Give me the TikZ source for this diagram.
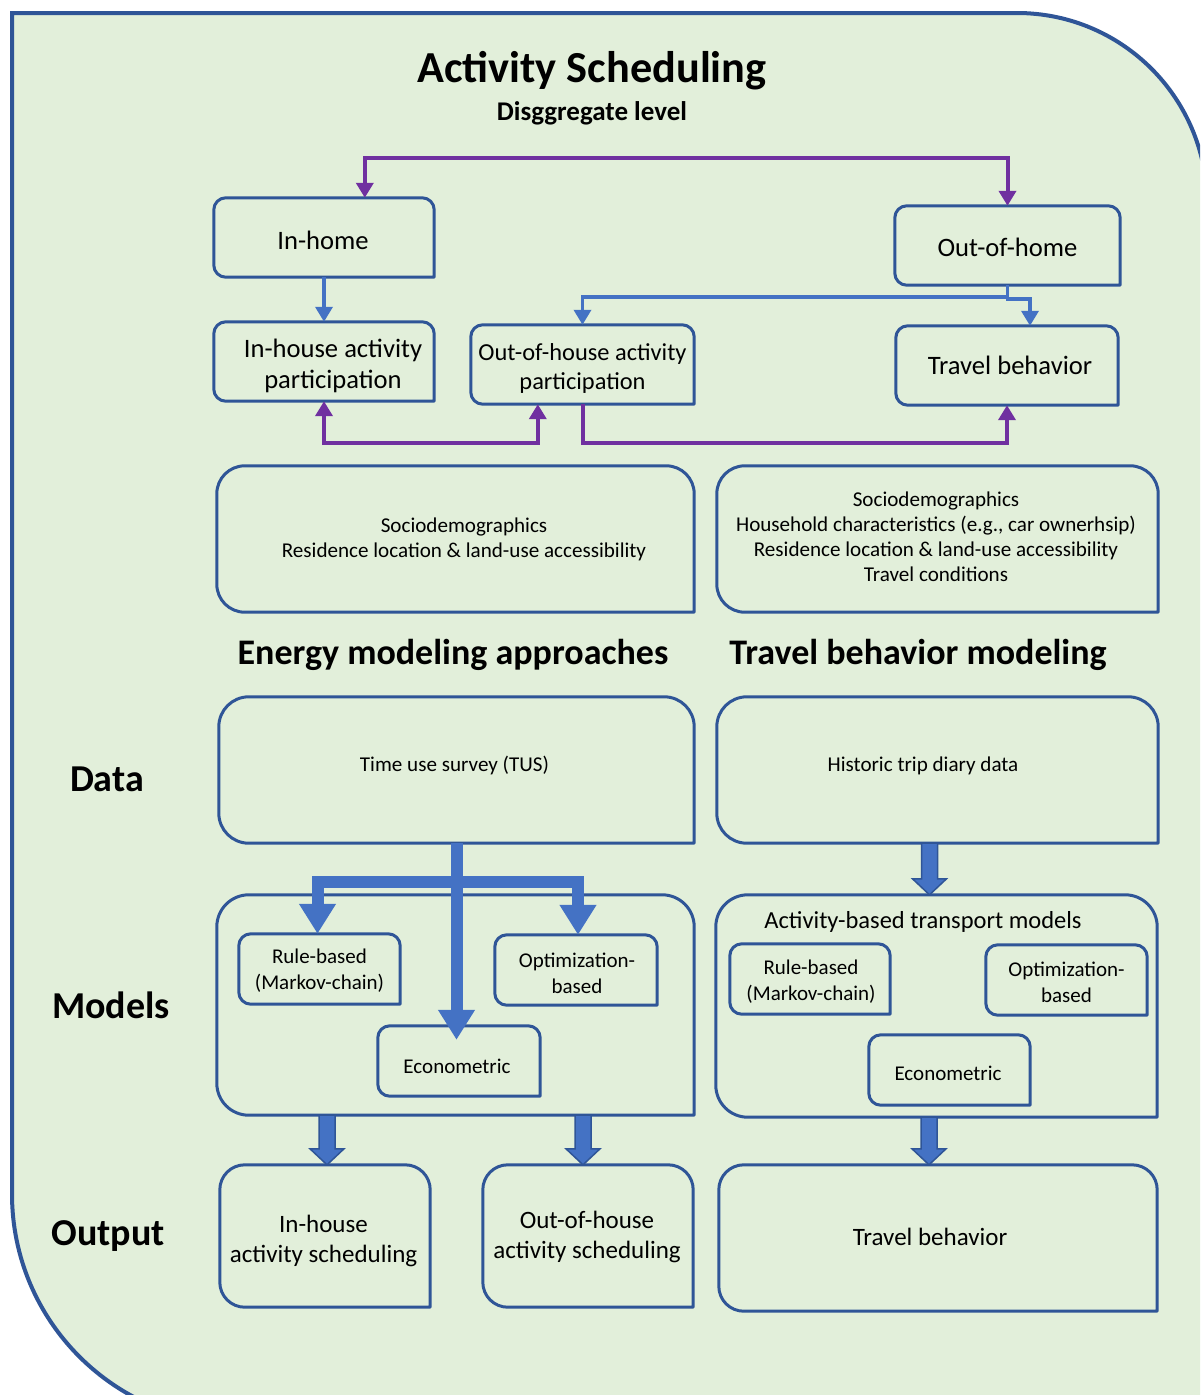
\documentclass[tikz,border=0pt]{standalone}
\usepackage{fontspec}
\setmainfont{Carlito}
\usetikzlibrary{arrows.meta,calc}
\definecolor{bgc}{HTML}{E2EFDA}
\definecolor{boxc}{HTML}{2F5597}
\definecolor{bluec}{HTML}{4472C4}
\definecolor{purp}{HTML}{7030A0}
\newcommand\fs[2]{\fontsize{#1}{#2}\selectfont}
% shifted text block: #1 = x shift, #2 = y shift, #3 = lines
\newcommand\sh[3]{\raisebox{#2}[\height][\depth]{\hspace*{#1}\begin{tabular}{@{}c@{}}#3\end{tabular}\hspace*{-#1}}}
\newcommand\boxoutline[2]{\draw[outl] (#1.south east) -- ([xshift=#2]#1.south west) arc[start angle=270,end angle=180,radius=#2] -- ([yshift=-#2]#1.north west) arc[start angle=180,end angle=90,radius=#2] -- ([xshift=-#2]#1.north east) arc[start angle=90,end angle=0,radius=#2] -- cycle;}
% block arrow from #1 to #2, x offset #3 from target's x
\newcommand\blockarrow[3]{\draw[barrow] let \p1=(#1), \p2=(#2) in (\x2+#3-8pt,\y1) -- (\x2+#3-8pt,\y2+16pt) -- (\x2+#3-17pt,\y2+16pt) -- (\x2+#3,\y2) -- (\x2+#3+17pt,\y2+16pt) -- (\x2+#3+8pt,\y2+16pt) -- (\x2+#3+8pt,\y1) -- cycle;}
\tikzset{
  bx/.style={rectangle, inner sep=0pt, align=center, text=black},
  outl/.style={draw=boxc, line width=3pt, line join=round},
  parrow/.style={draw=purp, line width=4pt},
  barr/.style={draw=bluec, line width=3.5pt, ->},
  thickarr/.style={draw=bluec, line width=12pt, -{Triangle[width=35pt,length=30pt]}},
  barrow/.style={fill=bluec, draw=boxc, line width=1.5pt, line join=miter},
  lbl/.style={font=\bfseries\fs{38}{46}},
  head/.style={font=\bfseries\fs{36}{44}},
  ftop/.style={font=\fs{26.6}{31}},
  fsm/.style={font=\fs{21.1}{25}},
  fmod/.style={font=\fs{21}{26}},
  fout/.style={font=\fs{25}{30}},
}
\begin{document}
\begin{tikzpicture}[x=1pt,y=-1pt,>={Triangle[width=17pt,length=15pt]}]
\useasboundingbox (0,0) rectangle (1200,1395);
\clip (0,0) rectangle (1200,1395);
\fill[white] (0,0) rectangle (1200,1395);
\draw[fill=bgc, draw=boxc, line width=4pt] (12,13) -- (1017,13) .. controls (1122,13) and (1207,98) .. (1207,203) -- (1207,1424) -- (242,1424) .. controls (115,1424) and (12,1321) .. (12,1194) -- cycle;

% titles
\node[font=\bfseries\fs{44.3}{52}] (title) at (592,71) {Activity Scheduling};
\node[font=\bfseries\fs{27}{32}] (sub) at (592,113) {Disggregate level};

% top boxes
\node[bx, ftop, minimum width=220pt, minimum height=79pt] (ih) at (324,237.5) {\sh{-1pt}{-6pt}{In-home}};
\node[bx, ftop, minimum width=225pt, minimum height=79pt] (oh) at (1007.5,245.5) {\sh{0pt}{-4.5pt}{Out-of-home}};
\node[bx, ftop, minimum width=220pt, minimum height=79pt] (ihp) at (324,361.5) {\sh{9pt}{-5pt}{In-house activity\\participation}};
\node[bx, font=\fs{24.4}{29}, minimum width=223pt, minimum height=79pt] (ohp) at (582.5,364.5) {\sh{0pt}{-5pt}{Out-of-house activity\\participation}};
\node[bx, ftop, minimum width=222pt, minimum height=79pt] (tbt) at (1007,365.5) {\sh{3pt}{-3pt}{Travel behavior}};
\foreach \n in {ih,oh,ihp,ohp,tbt} {\boxoutline{\n}{12pt}}

% attribute boxes
\node[bx, fsm, minimum width=477pt, minimum height=146pt] (sl) at (455.5,539) {\sh{8.5pt}{-1pt}{Sociodemographics\\Residence location \& land-use accessibility}};
\node[bx, fsm, minimum width=441pt, minimum height=146pt] (sr) at (937.5,539) {\sh{-1.5pt}{0pt}{Sociodemographics\\Household characteristics (e.g., car ownerhsip)\\Residence location \& land-use accessibility\\Travel conditions}};
\boxoutline{sl}{28pt}
\boxoutline{sr}{28pt}

% headings
\node[head] (h1) at (453,655) {Energy modeling approaches};
\node[head] (h2) at (918,655) {Travel behavior modeling};

% side labels
\node[lbl] (ldata) at (107,779) {Data};
\node[lbl] (lmod) at (111,1005) {Models};
\node[lbl] (lout) at (108,1236) {Output};

% data boxes
\node[bx, fsm, minimum width=475pt, minimum height=146pt] (dl) at (456.5,770) {\sh{-2pt}{4pt}{Time use survey (TUS)}};
\node[bx, fsm, minimum width=441pt, minimum height=146pt] (dr) at (937.5,770) {\sh{-14.5pt}{4pt}{Historic trip diary data}};
\boxoutline{dl}{30pt}
\boxoutline{dr}{30pt}

% models boxes
\node[bx, minimum width=477pt, minimum height=220pt] (ml) at (455.5,1005) {};
\node[bx, minimum width=441pt, minimum height=222pt] (mr) at (936.5,1006) {};
\boxoutline{ml}{32pt}
\boxoutline{mr}{32pt}
\node[font=\fs{24.5}{29}] (abtm) at (923,922) {Activity-based transport models};

\node[bx, fmod, minimum width=161pt, minimum height=70pt] (rbl) at (319.5,969) {\sh{0pt}{-2pt}{Rule-based\\(Markov-chain)}};
\node[bx, fmod, minimum width=162pt, minimum height=70pt] (obl) at (576,970) {\sh{1pt}{-5.5pt}{Optimization-\\based}};
\node[bx, fmod, minimum width=162pt, minimum height=70pt] (ecl) at (459,1061) {\sh{-2pt}{-7pt}{Econometric}};
\node[bx, fmod, minimum width=160pt, minimum height=70pt] (rbr) at (810,979) {\sh{1pt}{-3.5pt}{Rule-based\\(Markov-chain)}};
\node[bx, fmod, minimum width=161pt, minimum height=70pt] (obr) at (1066.5,980) {\sh{0pt}{-4.5pt}{Optimization-\\based}};
\node[bx, fmod, minimum width=161pt, minimum height=70pt] (ecr) at (949.5,1070) {\sh{-1.5pt}{-5pt}{Econometric}};
\foreach \n in {rbl,obl,ecl,rbr,obr,ecr} {\boxoutline{\n}{12pt}}

% output boxes
\node[bx, fout, minimum width=210pt, minimum height=142pt] (oil) at (325,1236) {\sh{-1.5pt}{-5.5pt}{In-house\\activity scheduling}};
\node[bx, fout, minimum width=210pt, minimum height=142pt] (ool) at (588,1236) {\sh{-1pt}{-1.5pt}{Out-of-house\\activity scheduling}};
\node[bx, fout, minimum width=438pt, minimum height=146pt] (otr) at (938,1238) {\sh{-8pt}{-1pt}{Travel behavior}};
\boxoutline{oil}{25pt}
\boxoutline{ool}{25pt}
\boxoutline{otr}{25pt}

% purple connectors
\coordinate (ptop) at (700,158);
\coordinate (pbotl) at (450,443);
\coordinate (pbotr) at (800,443);
\draw[parrow,<->] ($(ih.north west)+(151,0)$) |- (ptop) -| (oh.north);
\draw[parrow,<->] (ihp.south) |- (pbotl) -| ($(ohp.south west)+(67,0)$);
\draw[parrow,->] (ohp.south) |- (pbotr) -| (tbt.south);

% thin blue connectors
\coordinate (bmid) at (800,297);
\draw[barr] (ih.south) -- (ihp.north);
\draw[barr] (oh.south) |- (bmid) -| (ohp.north);
\draw[barr] (oh.south) |- ($(tbt.north)+(23,-27)$) -- ($(tbt.north)+(23,0)$);

% thick split arrows
\coordinate (split) at (456.5,882);
\draw[thickarr] (split) -| ($(rbl.north)+(-2,0)$);
\draw[thickarr] (split) -| ($(obl.north)+(2,0)$);
\draw[thickarr] (dl.south) -- ($(dl.south |- ecl.north)+(0,14)$);

% block arrows
\blockarrow{dr.south}{mr.north}{-7pt}
\blockarrow{mr.south}{otr.north}{-9pt}
\blockarrow{ml.south}{oil.north}{2pt}
\blockarrow{ml.south}{ool.north}{-5pt}
\end{tikzpicture}
\end{document}
